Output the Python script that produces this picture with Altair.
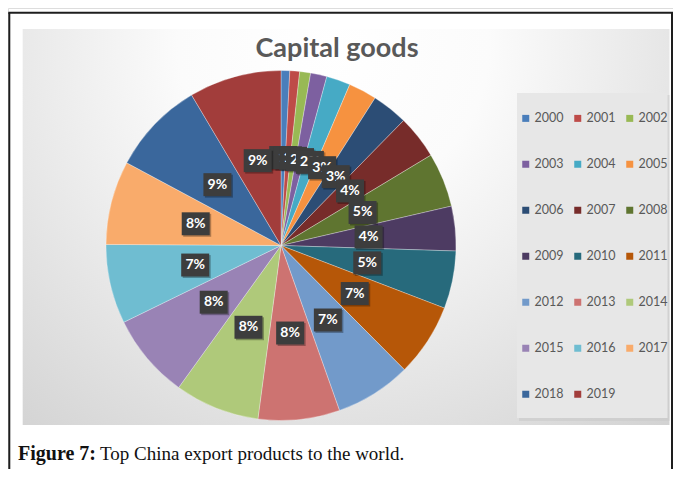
import altair as alt
import pandas as pd

# ---- data ----
years = [str(y) for y in range(2000, 2020)]
values = [0.8, 0.9, 1.0, 1.5, 2.2, 2.6, 3.3, 4.0, 5.0, 4.1,
          5.3, 6.7, 7.0, 7.5, 7.8, 7.8, 7.3, 7.7, 8.6, 8.5]
colors = ["#4A7EBB", "#BE4B48", "#98B954", "#7D60A0", "#46AAC5", "#F69240",
          "#2C4D75", "#772C2A", "#5F7530", "#4D3B62", "#276A7C", "#B65708",
          "#729ACA", "#CD7371", "#AFC97A", "#9983B5", "#6FBDD1", "#F9AB6B",
          "#3A679C", "#A23D3B"]
title_text = "Capital goods"
caption_bold = "Figure 7:"
caption_rest = "Top China export products to the world."

df = pd.DataFrame({"year": years, "value": values, "idx": list(range(len(years)))})
one = pd.DataFrame({"k": [0]})

# ---- layout (svg coordinates = page coordinates - 8) ----
W, H = 665, 461
CX, CY, R = 273, 237.5, 175
LR = 88 / R
BOX = "M-1,-0.82L1,-0.82L1,0.82L-1,0.82Z"

xscale = alt.Scale(domain=[-CX / R, (W - CX) / R], nice=False, zero=False)
yscale = alt.Scale(domain=[-(H - CY) / R, CY / R], nice=False, zero=False)

base1 = alt.Chart(one)

frame_l = base1.mark_rule(color="#1e1e1e", strokeWidth=2).encode(
    x=alt.value(1.3), y=alt.value(4.7), y2=alt.value(H))
frame_t = base1.mark_rule(color="#1e1e1e", strokeWidth=2).encode(
    x=alt.value(0.3), x2=alt.value(665), y=alt.value(4.7))
frame_r = base1.mark_rule(color="#1e1e1e", strokeWidth=2).encode(
    x=alt.value(664), y=alt.value(4.7), y2=alt.value(H))

grad = alt.RadialGradient(
    gradient="radial",
    stops=[alt.GradientStop(color="#ffffff", offset=0),
           alt.GradientStop(color="#fbfbfb", offset=0.3),
           alt.GradientStop(color="#d1d1d1", offset=1)],
    x1=0.48, y1=0.22, r1=0, x2=0.48, y2=0.22, r2=0.8)
panel = base1.mark_rect(fill=grad).encode(
    x=alt.value(14.7), x2=alt.value(661.5), y=alt.value(21), y2=alt.value(417))

leg_shadow = base1.mark_rect(fill="#c9c9c9", opacity=0.6).encode(
    x=alt.value(511), x2=alt.value(661.5), y=alt.value(87), y2=alt.value(413))
leg_panel = base1.mark_rect(fill="#e7e7e7").encode(
    x=alt.value(509), x2=alt.value(659.5), y=alt.value(85), y2=alt.value(410))

title = base1.mark_text(text=title_text, font="Lato", fontSize=27, fontWeight="bold",
                        color="#595959", align="center", baseline="alphabetic").encode(
    x=alt.value(329), y=alt.value(49))

cap1 = base1.mark_text(text=caption_bold, font="Liberation Serif", fontSize=20,
                       fontWeight="bold", color="#111111", align="left",
                       baseline="alphabetic").encode(x=alt.value(10), y=alt.value(452))
cap2 = base1.mark_text(text=caption_rest, font="Liberation Serif", fontSize=19,
                       color="#111111", align="left",
                       baseline="alphabetic").encode(x=alt.value(92), y=alt.value(452))

pie = alt.Chart(df).mark_arc(radius=R, stroke="#ffffff", strokeWidth=0.5,
                             strokeOpacity=0.6).encode(
    theta=alt.Theta("value:Q", stack=True),
    color=alt.Color("year:N", scale=alt.Scale(domain=years, range=colors),
                    legend=alt.Legend(title=None, orient="none", legendX=511.5, legendY=104,
                                      direction="horizontal", columns=3,
                                      symbolType="square", symbolSize=49,
                                      symbolStrokeWidth=0, symbolOpacity=1,
                                      labelFont="Lato", labelFontSize=12.5,
                                      labelColor="#595959", labelOffset=2.5,
                                      columnPadding=8, rowPadding=33, padding=0)),
    order=alt.Order("idx:Q", sort="ascending"),
    x=alt.value(CX), y=alt.value(CY))

lab = alt.Chart(df).transform_joinaggregate(
    total="sum(value)"
).transform_window(
    cum="sum(value)", sort=[alt.SortField("idx")], frame=[None, 0]
).transform_calculate(
    mid="2*PI*(datum.cum - datum.value/2)/datum.total"
).transform_calculate(
    lx=f"{LR}*sin(datum.mid)",
    ly=f"{LR}*cos(datum.mid)",
    pct="format(datum.value/datum.total, '.0%')"
)

label_layers = []
for yr in years:
    b = lab.transform_filter(alt.datum.year == yr)
    enc = dict(x=alt.X("lx:Q", scale=xscale, axis=None),
               y=alt.Y("ly:Q", scale=yscale, axis=None))
    label_layers.append(b.mark_point(shape=BOX, size=784, filled=True, opacity=1,
                                     color="#000000", fillOpacity=0.3,
                                     xOffset=1.5, yOffset=1.5).encode(**enc))
    label_layers.append(b.mark_point(shape=BOX, size=784, filled=True, opacity=1,
                                     color="#3d3d3d").encode(**enc))
    label_layers.append(b.mark_text(font="Lato", fontSize=14, fontWeight="bold",
                                    color="#ffffff").encode(text="pct:N", **enc))

chart = alt.layer(
    panel, frame_l, frame_t, frame_r, leg_shadow, leg_panel, title, pie,
    *label_layers, cap1, cap2
).properties(
    width=W, height=H, padding=0,
    autosize=alt.AutoSizeParams(type="none")
).configure_view(stroke=None).configure(background="#ffffff")

chart.save("out.html", embed_options={"renderer": "svg", "actions": False})
